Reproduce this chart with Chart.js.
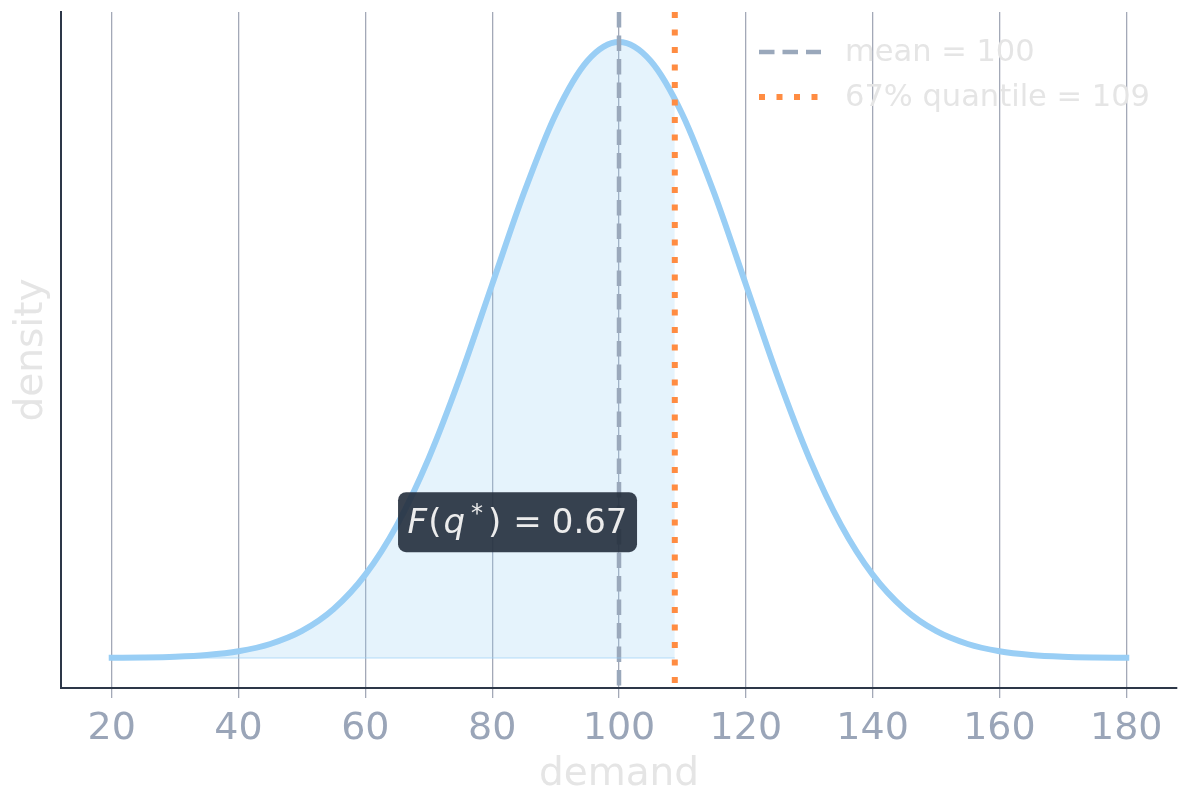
<!DOCTYPE html>
<html>
<head>
<meta charset="utf-8">
<script src="https://cdn.jsdelivr.net/npm/chart.js@4.4.1/dist/chart.umd.min.js"></script>
<style>
html, body { margin: 0; padding: 0; background: #fff; }
#wrap { width: 1189px; height: 808px; }
</style>
</head>
<body>
<div id="wrap"><canvas id="chart" width="1189" height="808"></canvas></div>
<script>
// demand grid and density
const demand = [20, 25, 30, 35, 40, 45, 50, 55, 60, 65, 70, 75, 80, 85, 90, 95, 100,
    105, 110, 115, 120, 125, 130, 135, 140, 145, 150, 155, 160, 165, 170, 175, 180];
const density = [0.0000067, 0.0000177, 0.0000436, 0.0001015, 0.0002216, 0.0004546, 0.0008764,
    0.001587, 0.0027, 0.004314, 0.006476, 0.009132, 0.0121, 0.015057, 0.017603, 0.019333, 0.019947,
    0.019333, 0.017603, 0.015057, 0.0121, 0.009132, 0.006476, 0.004314, 0.0027, 0.001587,
    0.0008764, 0.0004546, 0.0002216, 0.0001015, 0.0000436, 0.0000177, 0.0000067];

// shaded area, left of the quantile
const shadeDemand = [20, 25, 30, 35, 40, 45, 50, 55, 60, 65, 70, 75, 80, 85, 90, 95, 100, 105, 108.8];
const shadeDensity = [0.0000067, 0.0000177, 0.0000436, 0.0001015, 0.0002216, 0.0004546, 0.0008764,
    0.001587, 0.0027, 0.004314, 0.006476, 0.009132, 0.0121, 0.015057, 0.017603, 0.019333, 0.019947,
    0.019333, 0.01806];

const xTicks = [20, 40, 60, 80, 100, 120, 140, 160, 180];
const xRange = [12, 188];
const yRange = [-0.00097, 0.02092];

const meanValue = 100;
const quantileValue = 108.8;
const quantileProb = 0.67;
// where the F(q*) label sits, in data units
const labelAt = [84, 0.0044];

const font = 'DejaVu Sans';
const pts = (xs, ys) => xs.map((x, i) => ({ x: x, y: ys[i] }));
const vline = v => [{ x: v, y: yRange[1] }, { x: v, y: yRange[0] }];

function drawMathLabel(ctx, cx, cy) {
    const size = 34;
    const up = size + 'px "' + font + '"';
    const it = 'italic ' + up;
    const parts = [
        { t: 'F', f: it, gap: 0, dy: 0 },
        { t: '(', f: up, gap: 1, dy: 0 },
        { t: 'q', f: it, gap: 2, dy: 0 },
        { t: '*', f: '24px "' + font + '"', gap: 6, dy: -12 },
        { t: ')', f: up, gap: 5, dy: 0 },
        { t: '=', f: up, gap: 12, dy: 0 },
        { t: quantileProb.toFixed(2), f: up, gap: 10, dy: 0 }
    ];
    let total = 0;
    parts.forEach(p => {
        ctx.font = p.f;
        p.w = ctx.measureText(p.t).width;
        total += p.gap + p.w;
    });
    const w = 239, h = 60;
    ctx.save();
    ctx.fillStyle = 'rgba(36, 46, 60, 0.9)';
    ctx.beginPath();
    ctx.roundRect(cx - w / 2, cy - h / 2, w, h, 8);
    ctx.fill();
    ctx.fillStyle = '#ececec';
    ctx.textBaseline = 'alphabetic';
    let xPos = cx - total / 2;
    parts.forEach(p => {
        xPos += p.gap;
        ctx.font = p.f;
        ctx.fillText(p.t, xPos, cy + 11 + p.dy);
        xPos += p.w;
    });
    ctx.restore();
}

const overlay = {
    id: 'overlay',
    afterDatasetsDraw(chart) {
        const ctx = chart.ctx;
        const sx = chart.scales.x, sy = chart.scales.y;

        // thin lower edge of the shaded area, like the fill outline
        ctx.save();
        ctx.strokeStyle = 'rgba(153, 206, 245, 0.35)';
        ctx.lineWidth = 2;
        ctx.beginPath();
        ctx.moveTo(sx.getPixelForValue(shadeDemand[0]), sy.getPixelForValue(0));
        ctx.lineTo(sx.getPixelForValue(shadeDemand[shadeDemand.length - 1]), sy.getPixelForValue(0));
        ctx.stroke();
        ctx.restore();

        drawMathLabel(ctx, sx.getPixelForValue(labelAt[0]), sy.getPixelForValue(labelAt[1]));

        // legend, top right inside the plot
        const items = [chart.data.datasets[1], chart.data.datasets[0]];
        ctx.save();
        items.forEach((ds, i) => {
            const yy = 52 + i * 45;
            ctx.strokeStyle = ds.borderColor;
            ctx.lineWidth = ds.borderWidth;
            ctx.setLineDash(ds.borderDash);
            ctx.lineCap = 'butt';
            ctx.beginPath();
            ctx.moveTo(759, yy);
            ctx.lineTo(821, yy);
            ctx.stroke();
            ctx.setLineDash([]);
            ctx.fillStyle = '#e5e5e5';
            ctx.font = '30.5px "' + font + '"';
            ctx.textBaseline = 'middle';
            ctx.fillText(ds.label, 845, yy + 1);
        });
        ctx.restore();
    }
};

new Chart(document.getElementById('chart'), {
    type: 'line',
    data: {
        datasets: [{
            label: Math.round(quantileProb * 100) + '% quantile = ' + Math.round(quantileValue),
            data: vline(quantileValue),
            borderColor: '#ff8c42',
            borderWidth: 6,
            borderDash: [6, 11.5]
        }, {
            label: 'mean = ' + meanValue,
            data: vline(meanValue),
            borderColor: '#9aa8bb',
            borderWidth: 4.5,
            borderDash: [15.5, 8]
        }, {
            label: 'density',
            data: pts(demand, density),
            borderColor: '#99cef5',
            borderWidth: 6,
            borderCapStyle: 'square',
            cubicInterpolationMode: 'monotone',
            fill: false
        }, {
            label: 'shade',
            data: pts(shadeDemand, shadeDensity),
            borderWidth: 0,
            backgroundColor: 'rgba(153, 206, 245, 0.25)',
            cubicInterpolationMode: 'monotone',
            fill: 'origin'
        }]
    },
    options: {
        responsive: false,
        animation: false,
        devicePixelRatio: 1,
        layout: { padding: { top: 12, right: 12, left: 0, bottom: 0 } },
        elements: { point: { radius: 0, hoverRadius: 0 } },
        plugins: {
            legend: { display: false },
            tooltip: { enabled: false }
        },
        scales: {
            x: {
                type: 'linear',
                min: xRange[0],
                max: xRange[1],
                afterBuildTicks: s => { s.ticks = xTicks.map(v => ({ value: v })); },
                afterFit: s => { s.height = 120; },
                grid: { color: '#a3a9b7', lineWidth: 1.3, tickLength: 10 },
                border: { color: '#2d3748', width: 2 },
                ticks: {
                    color: '#9aa5b8',
                    font: { family: font, size: 38 },
                    padding: 8,
                    maxRotation: 0,
                    autoSkip: false
                },
                title: {
                    display: true,
                    text: 'demand',
                    color: '#e5e5e5',
                    font: { family: font, size: 39 },
                    padding: { top: 0, bottom: 10 }
                }
            },
            y: {
                min: yRange[0],
                max: yRange[1],
                afterFit: s => { s.width = 61; },
                grid: { display: false },
                ticks: { display: false },
                border: { color: '#2d3748', width: 2 },
                title: {
                    display: true,
                    text: 'density',
                    color: '#e5e5e5',
                    font: { family: font, size: 39 },
                    padding: { top: 8, bottom: 0 }
                }
            }
        }
    },
    plugins: [overlay]
});
</script>
</body>
</html>
